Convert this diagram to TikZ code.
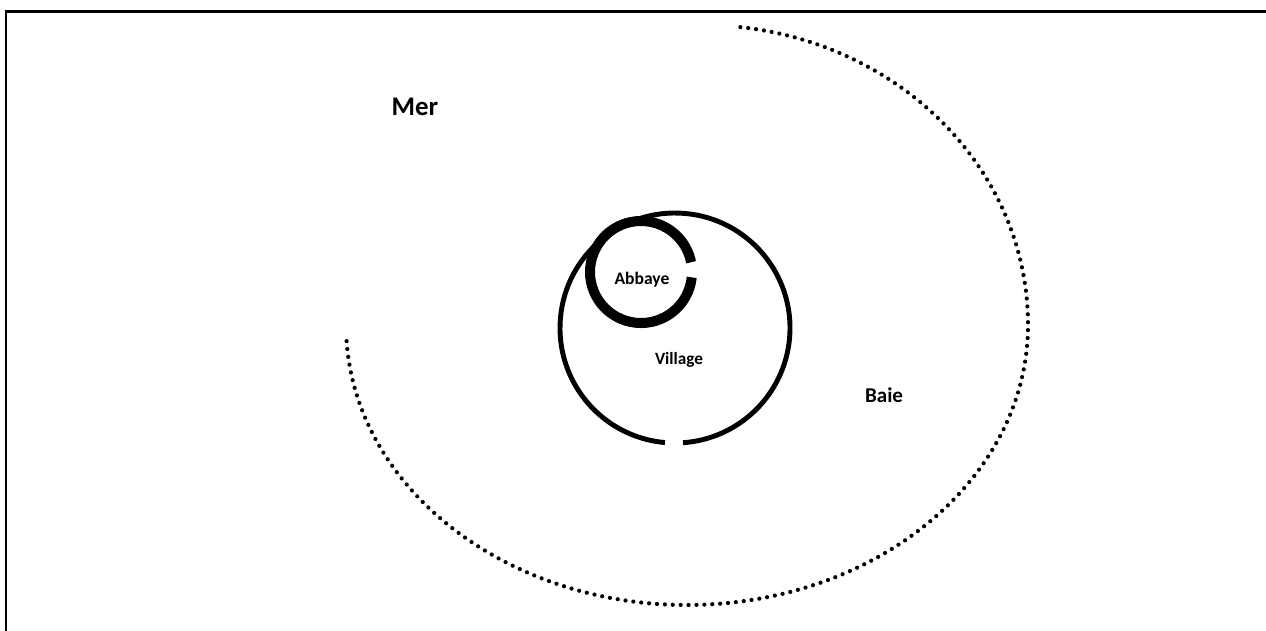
\documentclass[tikz,border=0pt]{standalone}
\usepackage{fontspec}
\setmainfont{Carlito}
\begin{document}
\begin{tikzpicture}[x=0.02cm,y=-0.02cm,
  frame/.style={line width=1.7pt, line cap=rect},
  shore/.style={line width=2.4pt, line cap=round, dash pattern=on 0pt off 4.5pt},
  wall/.style={line width=2.8pt},
  abbeywall/.style={line width=5.7pt},
  lbl/.style={font=\bfseries, inner sep=0pt}]
\useasboundingbox (0,0) rectangle (1266,630);
% frame
\coordinate (f1) at (6,640);
\coordinate (f2) at (6,11);
\coordinate (f3) at (1280,11);
\draw[frame] (f1) -- (f2) -- (f3);
% shoreline
\coordinate (sc) at (687,325);
\draw[shore] (sc) ++(176.7:341 and 280)
  arc[start angle=176.7, end angle=0, x radius=341, y radius=280]
  arc[start angle=0, end angle=-84.5, x radius=326, y radius=300];
% village
\coordinate (vc) at (675,328);
\draw[wall] (vc) ++(95:115) arc[start angle=95, end angle=446, radius=115];
% abbaye
\coordinate (ac) at (641,272);
\draw[abbeywall] (ac) ++(6:51) arc[start angle=6, end angle=349, radius=51];
% labels
\node[lbl, font=\bfseries\fontsize{15.3}{18}\selectfont] (mer) at (415,107) {Mer};
\node[lbl, font=\bfseries\fontsize{12}{14}\selectfont] (baie) at (884,395) {Baie};
\node[lbl, font=\bfseries\fontsize{9.8}{12}\selectfont] (village) at (679,360) {Village};
\node[lbl, font=\bfseries\fontsize{10}{12}\selectfont] (abbaye) at (642,280) {Abbaye};
\end{tikzpicture}
\end{document}
